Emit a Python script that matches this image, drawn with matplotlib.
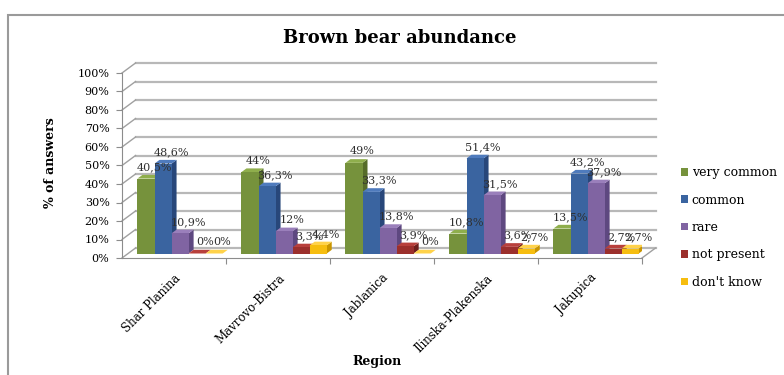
import matplotlib.pyplot as plt
from matplotlib.patches import Polygon, Patch, Rectangle

plt.rcParams['font.family'] = ['DejaVu Serif']

regions = ['Shar Planina', 'Mavrovo-Bistra', 'Jablanica', 'Ilinska-Plakenska', 'Jakupica']
series_names = ['very common', 'common', 'rare', 'not present', "don't know"]
very_common = [40.5, 44, 49, 10.8, 13.5]
common = [48.6, 36.3, 33.3, 51.4, 43.2]
rare = [10.9, 12, 13.8, 31.5, 37.9]
not_present = [0, 3.3, 3.9, 3.6, 2.7]
dont_know = [0, 4.4, 0, 2.7, 2.7]
yticks = [0, 10, 20, 30, 40, 50, 60, 70, 80, 90, 100]

series = [very_common, common, rare, not_present, dont_know]
# front, side, top colours for each series
front_cols = ['#76923c', '#3a64a0', '#8064a2', '#9b2f2c', '#f6bd0f']
side_cols = ['#566c2a', '#28477a', '#5e4880', '#6e1f1d', '#c99500']
top_cols = ['#8fae4c', '#4f7bbd', '#9a7fbb', '#b8403c', '#ffd24a']

# depth of the 3d box, in data units
DX = 0.13
DY = 5.4
d0, d1 = 0.45, 0.82
w = 0.164

fig = plt.figure(figsize=(7.84, 3.75), dpi=100)
ax = fig.add_axes([122 / 784, 1 - 258 / 375, 520 / 784, 185 / 375])
ax.set_xlim(-0.5, 4.5)
ax.set_ylim(0, 100)
ax.patch.set_visible(False)

for s in ['top', 'right']:
    ax.spines[s].set_visible(False)
ax.spines['left'].set_color('#8c8c8c')
ax.spines['bottom'].set_color('#8c8c8c')

# back wall grid + left wall slants
for v in yticks:
    ax.plot([-0.5 + DX, 4.5 + DX], [v + DY, v + DY], color='#b8b8b8', lw=1.6, zorder=1, clip_on=False)
    ax.plot([-0.5, -0.5 + DX], [v, v + DY], color='#a0a0a0', lw=1.0, zorder=1, clip_on=False)
ax.plot([4.5, 4.5 + DX], [0, DY], color='#a0a0a0', lw=1.0, zorder=1, clip_on=False)

# bars
z = 3
for j in range(len(regions)):
    for i, vals in enumerate(series):
        h = vals[j]
        x0 = j - 0.41 + i * w
        side = [(x0 + w + d0 * DX, d0 * DY), (x0 + w + d1 * DX, d1 * DY),
                (x0 + w + d1 * DX, h + d1 * DY), (x0 + w + d0 * DX, h + d0 * DY)]
        top = [(x0 + d0 * DX, h + d0 * DY), (x0 + w + d0 * DX, h + d0 * DY),
               (x0 + w + d1 * DX, h + d1 * DY), (x0 + d1 * DX, h + d1 * DY)]
        ax.add_patch(Polygon(side, closed=True, facecolor=side_cols[i], edgecolor='none', zorder=z))
        ax.add_patch(Polygon(top, closed=True, facecolor=top_cols[i], edgecolor='none', zorder=z))
        ax.bar(x0 + d0 * DX, h, width=w, bottom=d0 * DY, align='edge', color=front_cols[i],
               edgecolor='none', zorder=z + 0.5)
        z += 1

# data labels
for j in range(len(regions)):
    for i, vals in enumerate(series):
        h = vals[j]
        x0 = j - 0.41 + i * w
        txt = ('%g' % h).replace('.', ',') + '%'
        ax.text(x0 + w / 2 + d1 * DX + 0.03, h + d1 * DY + 1.5, txt, ha='center', va='bottom',
                fontsize=8, color='#303030', zorder=200)

ax.set_yticks(yticks)
ax.set_yticklabels(['%d%%' % v for v in yticks], fontsize=8)
ax.tick_params(axis='y', length=4, color='#8c8c8c', pad=5)
ax.set_xticks([0.5, 1.5, 2.5, 3.5, 4.5])
ax.set_xticklabels([])
ax.tick_params(axis='x', which='major', length=4, color='#8c8c8c')
ax.set_xticks(range(len(regions)), minor=True)
ax.set_xticklabels(regions, minor=True, rotation=45, ha='right', va='top',
                   rotation_mode='anchor', fontsize=8.5)
ax.tick_params(axis='x', which='minor', length=0, pad=10)

# legend
handles = [Patch(facecolor=c, edgecolor='none') for c in front_cols]
fig.legend(handles, series_names, loc='upper left', bbox_to_anchor=(670 / 784, 1 - 155 / 375),
           frameon=False, fontsize=9, handlelength=0.55, handleheight=0.55, handletextpad=0.3,
           labelspacing=1.15)

fig.text(400 / 784, 1 - 38 / 375, 'Brown bear abundance', ha='center', va='center',
         fontsize=13, fontweight='bold')
fig.text(50 / 784, 1 - 163 / 375, '% of answers', ha='center', va='center', rotation=90,
         fontsize=9, fontweight='bold')
fig.text(377 / 784, 1 - 362 / 375, 'Region', ha='center', va='center', fontsize=9, fontweight='bold')

fig.patches.append(Rectangle((8 / 784, -0.02), 1.0, 1 - 15 / 375 + 0.02, transform=fig.transFigure,
                             fill=False, edgecolor='#9a9a9a', lw=1.5))

fig.savefig('out.png', dpi=100)
